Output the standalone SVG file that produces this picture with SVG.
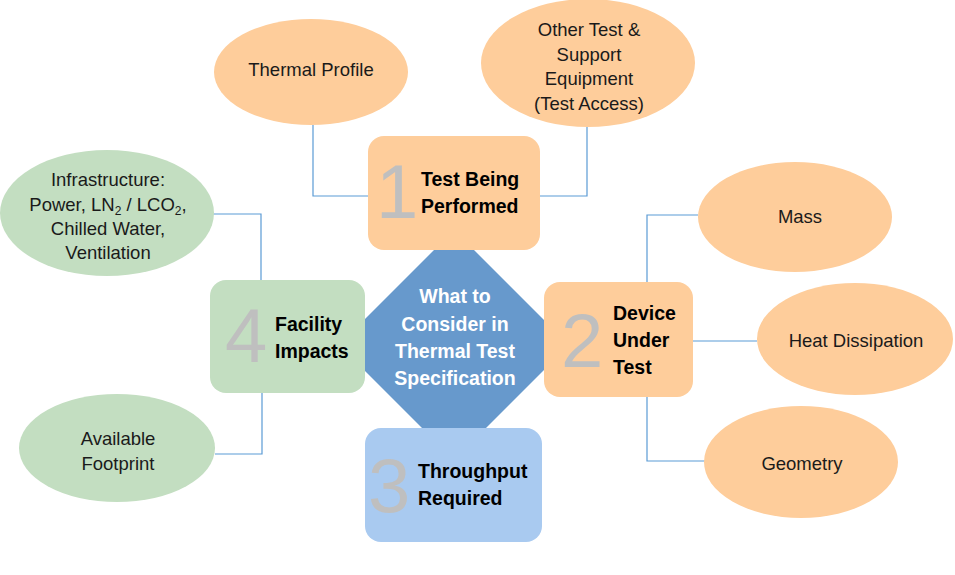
<svg xmlns="http://www.w3.org/2000/svg" width="955" height="575" viewBox="0 0 955 575">
<style>
.conn{fill:none;stroke:#5B9BD5;stroke-width:1.2}
.orange{fill:#FECD9B}
.green{fill:#C3DEC1}
.blue3{fill:#A9CAF0}
.dia{fill:#6799CC}
.lbl{font-family:"Liberation Sans",Arial,sans-serif;font-size:18.5px;fill:#1a1a1a;text-anchor:middle}
.bold{font-family:"Liberation Sans",Arial,sans-serif;font-size:19.5px;font-weight:bold;fill:#000}
.wh{font-family:"Liberation Sans",Arial,sans-serif;font-size:19.5px;font-weight:bold;fill:#fff;text-anchor:middle}
.num{font-family:"Liberation Sans",Arial,sans-serif;font-size:76px;fill:#BFBFBF}
.sub{font-size:12px}
</style>
<rect width="955" height="575" fill="#fff"/>
<g id="connectors">
<polyline class="conn" points="313,125 313,196 368,196"/>
<polyline class="conn" points="587,127 587,196 540,196"/>
<polyline class="conn" points="647,282 647,215 698,215"/>
<polyline class="conn" points="693,341 757,341"/>
<polyline class="conn" points="647,397 647,461 705,461"/>
<polyline class="conn" points="213,214 261,214 261,280"/>
<polyline class="conn" points="262,393 262,454 215,454"/>
</g>
<g id="center">
<polygon class="dia" points="454,230 569,345 454,460 339,345"/>
<text class="wh"><tspan x="455" y="303">What to</tspan><tspan x="455" y="331">Consider in</tspan><tspan x="455" y="358">Thermal Test</tspan><tspan x="455" y="385">Specification</tspan></text>
</g>
<g id="box1">
<rect class="orange" x="368" y="136" width="172" height="114" rx="16"/>
<text class="num" x="376" y="218">1</text>
<text class="bold"><tspan x="421" y="186">Test Being</tspan><tspan x="421" y="213">Performed</tspan></text>
</g>
<g id="box2">
<rect class="orange" x="544" y="282" width="149" height="115" rx="16"/>
<text class="num" x="561" y="367">2</text>
<text class="bold"><tspan x="613" y="320">Device</tspan><tspan x="613" y="347">Under</tspan><tspan x="613" y="374">Test</tspan></text>
</g>
<g id="box3">
<rect class="blue3" x="365" y="428" width="177" height="114" rx="16"/>
<text class="num" x="368" y="512">3</text>
<text class="bold"><tspan x="418" y="478">Throughput</tspan><tspan x="418" y="505">Required</tspan></text>
</g>
<g id="box4">
<rect class="green" x="210" y="280" width="155" height="113" rx="16"/>
<text class="num" x="225" y="362">4</text>
<text class="bold"><tspan x="275" y="331">Facility</tspan><tspan x="275" y="358">Impacts</tspan></text>
</g>
<g id="thermal-profile">
<ellipse class="orange" cx="311" cy="72" rx="97" ry="53"/>
<text class="lbl" x="311" y="76">Thermal Profile</text>
</g>
<g id="other-test">
<ellipse class="orange" cx="588" cy="63" rx="107" ry="64"/>
<text class="lbl"><tspan x="589" y="36">Other Test &amp;</tspan><tspan x="589" y="61">Support</tspan><tspan x="589" y="85">Equipment</tspan><tspan x="589" y="110">(Test Access)</tspan></text>
</g>
<g id="mass">
<ellipse class="orange" cx="795" cy="217" rx="97" ry="55"/>
<text class="lbl" x="800" y="223">Mass</text>
</g>
<g id="heat-dissipation">
<ellipse class="orange" cx="855" cy="339" rx="98" ry="56"/>
<text class="lbl" x="856" y="347">Heat Dissipation</text>
</g>
<g id="geometry">
<ellipse class="orange" cx="801" cy="462" rx="97" ry="56"/>
<text class="lbl" x="802" y="470">Geometry</text>
</g>
<g id="infrastructure">
<ellipse class="green" cx="107" cy="213" rx="107" ry="63"/>
<text class="lbl"><tspan x="108" y="186">Infrastructure:</tspan><tspan x="108" y="211">Power, LN<tspan class="sub" dy="4">2</tspan><tspan dy="-4"> / LCO</tspan><tspan class="sub" dy="4">2</tspan><tspan dy="-4">,</tspan></tspan><tspan x="108" y="235">Chilled Water,</tspan><tspan x="108" y="259">Ventilation</tspan></text>
</g>
<g id="footprint">
<ellipse class="green" cx="117" cy="448" rx="98" ry="54"/>
<text class="lbl"><tspan x="118" y="445">Available</tspan><tspan x="118" y="470">Footprint</tspan></text>
</g>
</svg>
